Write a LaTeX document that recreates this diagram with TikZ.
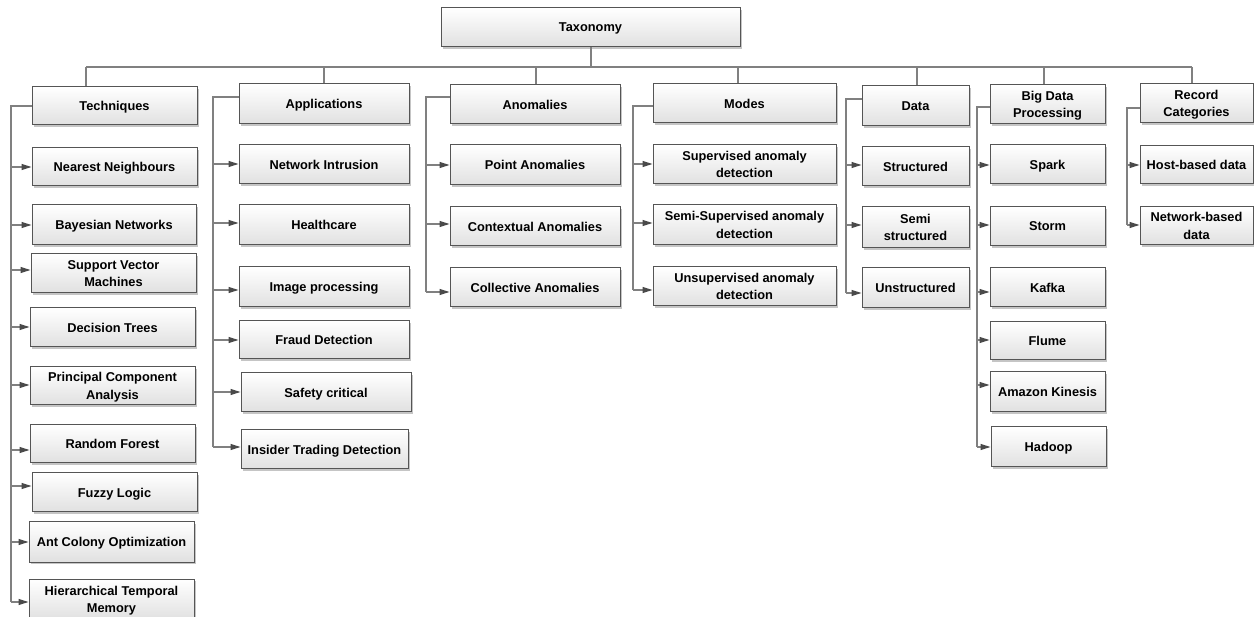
\documentclass[tikz,border=0pt]{standalone}
\usepackage{fontspec}
\setmainfont{Liberation Sans}
\usetikzlibrary{arrows.meta,shadows}
\definecolor{bordergray}{HTML}{555555}
\definecolor{linegray}{HTML}{808080}
\definecolor{tipgray}{HTML}{4A4A4A}
\tikzset{
  box/.style={draw=bordergray, line width=1pt, top color=white, bottom color=black!12,
    drop shadow={shadow xshift=1.8pt, shadow yshift=-1.8pt, fill=black!50, opacity=0.45},
    align=center, inner sep=2pt, text=black, text depth=0pt,
    font=\bfseries\fontsize{12.8}{17.5}\selectfont},
  conn/.style={draw=linegray, line width=1.3pt},
  arr/.style={conn, -{Triangle[length=10pt,width=6pt,color=tipgray]}},
}
\newcommand\mkbox[6]{\node[box, minimum width={#4pt-#2pt}, minimum height={#5pt-#3pt}] (#1) at ({(#2+#4)/2},{(#3+#5)/2}) {#6};}
\newcommand\arrto[3]{\draw[arr] (#1,#2) -- (#3.west |- 0,#2);}
\newcommand\spine[4]{\draw[conn] (#1.west |- 0,#3) -- (#2,#3) -- (#2,#4);}
\newcommand\drop[2]{\draw[conn] (#2,67) -- (#1.north -| #2,0);}
\begin{document}
\begin{tikzpicture}[x=1pt,y=-1pt]
\clip (0,0) rectangle (1254,617);
\fill[white] (0,0) rectangle (1254,617);

% root
\mkbox{tax}{441}{8}{740}{47}{Taxonomy}

% categories
\mkbox{tech}{32}{87}{197}{125}{Techniques}
\mkbox{app}{239}{84}{409}{124}{Applications}
\mkbox{anom}{450}{85}{620}{124}{Anomalies}
\mkbox{modes}{653}{84}{836}{123}{Modes}
\mkbox{data}{862}{86}{969}{126}{Data}
\mkbox{bdp}{990}{85}{1105}{124}{Big Data\\Processing}
\mkbox{rc}{1140}{84}{1253}{123}{Record\\Categories}

% techniques
\mkbox{nn}{32}{148}{197}{186}{Nearest Neighbours}
\mkbox{bn}{32}{205}{196}{245}{Bayesian Networks}
\mkbox{svm}{31}{254}{196}{293}{Support Vector\\Machines}
\mkbox{dt}{30}{308}{195}{347}{Decision Trees}
\mkbox{pca}{30}{367}{195}{405}{Principal Component\\Analysis}
\mkbox{rf}{30}{425}{195}{463}{Random Forest}
\mkbox{fl}{32}{473}{197}{512}{Fuzzy Logic}
\mkbox{aco}{29}{522}{194}{562}{Ant Colony Optimization}
\mkbox{htm}{29}{579}{194}{620}{Hierarchical Temporal\\Memory}

% applications
\mkbox{ni}{239}{145}{409}{184}{Network Intrusion}
\mkbox{hc}{239}{205}{409}{245}{Healthcare}
\mkbox{ip}{239}{267}{409}{307}{Image processing}
\mkbox{fd}{239}{321}{409}{359}{Fraud Detection}
\mkbox{sc}{241}{373}{411}{412}{Safety critical}
\mkbox{itd}{241}{430}{408}{469}{Insider Trading Detection}

% anomalies
\mkbox{pa}{450}{145}{620}{185}{Point Anomalies}
\mkbox{ca}{450}{207}{620}{246}{Contextual Anomalies}
\mkbox{cola}{450}{268}{620}{307}{Collective Anomalies}

% modes
\mkbox{sad}{653}{145}{836}{184}{Supervised anomaly\\detection}
\mkbox{ssad}{653}{205}{836}{245}{Semi-Supervised anomaly\\detection}
\mkbox{uad}{653}{267}{836}{306}{Unsupervised anomaly\\detection}

% data
\mkbox{st}{862}{147}{969}{186}{Structured}
\mkbox{sst}{862}{207}{969}{248}{Semi\\structured}
\mkbox{ust}{862}{268}{969}{308}{Unstructured}

% big data processing
\mkbox{spark}{990}{145}{1105}{184}{Spark}
\mkbox{storm}{990}{207}{1105}{246}{Storm}
\mkbox{kafka}{990}{268}{1105}{307}{Kafka}
\mkbox{flume}{990}{322}{1105}{360}{Flume}
\mkbox{kin}{990}{372}{1105}{412}{Amazon Kinesis}
\mkbox{hadoop}{991}{427}{1106}{467}{Hadoop}

% record categories
\mkbox{host}{1140}{146}{1253}{184}{Host-based data}
\mkbox{net}{1140}{207}{1253}{245}{Network-based\\data}

% top bus
\coordinate (bus) at (591,67);
\draw[conn] (tax.south -| bus) -- (bus);
\draw[conn] (86,67) -- (1192,67);
\drop{tech}{86}
\drop{app}{324}
\drop{anom}{536}
\drop{modes}{738}
\drop{data}{917}
\drop{bdp}{1044}
\drop{rc}{1192}

% spines
\spine{tech}{11}{106}{602}
\spine{app}{213}{97}{447}
\spine{anom}{426}{97}{292}
\spine{modes}{633}{106}{290}
\spine{data}{846}{99}{293}
\spine{bdp}{977}{107}{447}
\spine{rc}{1127}{108}{225}

% arrows techniques
\arrto{11}{167}{nn}
\arrto{11}{225}{bn}
\arrto{11}{270}{svm}
\arrto{11}{327}{dt}
\arrto{11}{385}{pca}
\arrto{11}{450}{rf}
\arrto{11}{486}{fl}
\arrto{11}{542}{aco}
\arrto{11}{602}{htm}
% arrows applications
\arrto{213}{164}{ni}
\arrto{213}{223}{hc}
\arrto{213}{290}{ip}
\arrto{213}{340}{fd}
\arrto{213}{392}{sc}
\arrto{213}{447}{itd}
% arrows anomalies
\arrto{426}{165}{pa}
\arrto{426}{224}{ca}
\arrto{426}{292}{cola}
% arrows modes
\arrto{633}{164}{sad}
\arrto{633}{223}{ssad}
\arrto{633}{290}{uad}
% arrows data
\arrto{846}{165}{st}
\arrto{846}{225}{sst}
\arrto{846}{293}{ust}
% arrows big data
\arrto{977}{165}{spark}
\arrto{977}{225}{storm}
\arrto{977}{292}{kafka}
\arrto{977}{340}{flume}
\arrto{977}{385}{kin}
\arrto{977}{447}{hadoop}
% arrows record categories
\arrto{1127}{165}{host}
\arrto{1127}{225}{net}
\end{tikzpicture}
\end{document}
